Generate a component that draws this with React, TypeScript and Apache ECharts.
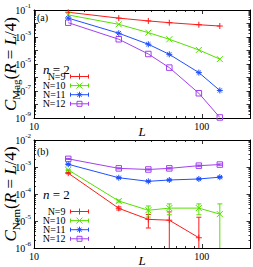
import React, { useEffect, useRef } from 'react';
import * as echarts from 'echarts';

const sizes = [16, 32, 48, 64, 96, 128];
const seriesNames = ['N=9', 'N=10', 'N=11', 'N=12'];
const colors = ['#ff1a1a', '#55e000', '#1f4fff', '#a040f0'];

// panel (a): C_Mag(R=L/4)
const magN9 = [6.8e-2, 2.5e-2, 1.55e-2, 1.15e-2, 8.1e-3, 6.5e-3];
const magN10 = [4.3e-2, 8.7e-3, 2.1e-3, 6.8e-4, 1.1e-4, 2.3e-5];
const magN11 = [2.5e-2, 1.9e-3, 2.9e-4, 5.2e-5, 2.3e-6, 1.1e-7];
const magN12 = [1.15e-2, 6.8e-4, 5.5e-5, 5.4e-6, 6.8e-8, 1.1e-9];

// panel (b): C_Nem(R=L/4)
const nemN9 = [5.9e-4, 2.95e-5, 1.15e-5, 1.07e-5, 2.4e-6, null];
const nemN10 = [7.8e-4, 5.5e-5, 2.5e-5, 3.0e-5, 3.0e-5, 1.8e-5];
const nemN11 = [1.26e-3, 4.0e-4, 2.95e-4, 3.3e-4, 3.6e-4, 4.2e-4];
const nemN12 = [2.0e-3, 8.9e-4, 8.1e-4, 8.9e-4, 1.12e-3, 1.23e-3];

const nemErrN9 = [3e-5, 4e-6, 6e-6, 1.1e-5, 1.14e-5, null];
const nemErrN10 = [4e-5, 5e-6, 1.1e-5, 1.3e-5, 1.3e-5, 2.5e-5];
const nemErrN11 = [5e-5, 2e-5, 1.5e-5, 2e-5, 2e-5, 2.5e-5];
const nemErrN12 = [8e-5, 4e-5, 4e-5, 5e-5, 6e-5, 7e-5];

const xMin = 10;
const xMax = 195;
const magYMin = 1e-9;
const magYMax = 1e-1;
const nemYMin = 1e-6;
const nemYMax = 1e-2;

const xTitle = 'L';
const magTitle = '{i|C}{sub|Mag}{t|(}{i|R}{t| = }{i|L}{t|/4)}';
const nemTitle = '{i|C}{sub|Nem}{t|(}{i|R}{t| = }{i|L}{t|/4)}';

const FONT = "'Liberation Serif', 'DejaVu Serif', serif";

const markerPaths = [
  'path://M0,3L6,3M3,0L3,6',
  'path://M0,0L6,6M0,6L6,0',
  'path://M0,3L6,3M3,0L3,6M0.9,0.9L5.1,5.1M0.9,5.1L5.1,0.9',
  'path://M0.5,0.5L5.5,0.5L5.5,5.5L0.5,5.5Z',
];

function isPow10(v: number) {
  const e = Math.log10(v);
  return Math.abs(e - Math.round(e)) < 1e-6;
}

function markerGraphic(i: number, cx: number, cy: number, color: string) {
  const st = { stroke: color, lineWidth: 1, fill: 'none' };
  const r = 3;
  const ln = (x1: number, y1: number, x2: number, y2: number) => ({
    type: 'line', shape: { x1, y1, x2, y2 }, style: st, silent: true,
  });
  if (i === 0) return [ln(cx - r, cy, cx + r, cy), ln(cx, cy - r, cx, cy + r)];
  if (i === 1) return [ln(cx - r, cy - r, cx + r, cy + r), ln(cx - r, cy + r, cx + r, cy - r)];
  if (i === 2)
    return [
      ln(cx - r, cy, cx + r, cy), ln(cx, cy - r, cx, cy + r),
      ln(cx - 2.1, cy - 2.1, cx + 2.1, cy + 2.1), ln(cx - 2.1, cy + 2.1, cx + 2.1, cy - 2.1),
    ];
  return [{ type: 'rect', shape: { x: cx - 2.5, y: cy - 2.5, width: 5, height: 5 }, style: st, silent: true }];
}

function legendGraphic(firstRowY: number) {
  const rowGap = 9.1;
  const textRight = 65.5;
  const x1 = 70.5;
  const x2 = 88.5;
  const out: any[] = [];
  seriesNames.forEach((n, i) => {
    const y = firstRowY + i * rowGap;
    const c = colors[i];
    const st = { stroke: c, lineWidth: 1 };
    out.push({
      type: 'text', x: textRight, y, silent: true,
      style: {
        text: n, fontFamily: FONT, fontSize: 10, lineHeight: 9, fill: '#000',
        align: 'right', verticalAlign: 'middle',
      },
    });
    out.push({ type: 'line', shape: { x1, y1: y, x2, y2: y }, style: st, silent: true });
    out.push({ type: 'line', shape: { x1, y1: y - 2, x2: x1, y2: y + 2 }, style: st, silent: true });
    out.push({ type: 'line', shape: { x1: x2, y1: y - 2, x2, y2: y + 2 }, style: st, silent: true });
    markerGraphic(i, (x1 + x2) / 2, y, c).forEach((g) => out.push(g));
  });
  return out;
}

function yTitle(text: string, cy: number) {
  return {
    type: 'text',
    x: 10,
    y: cy,
    rotation: Math.PI / 2,
    silent: true,
    style: {
      text,
      align: 'center',
      verticalAlign: 'middle',
      fill: '#000',
      fontFamily: FONT,
      fontSize: 17,
      rich: {
        i: { fontFamily: FONT, fontStyle: 'italic', fontSize: 17, lineHeight: 17, fill: '#000' },
        t: { fontFamily: FONT, fontSize: 17, lineHeight: 17, fill: '#000' },
        sub: { fontFamily: FONT, fontSize: 11, lineHeight: 11, fill: '#000', verticalAlign: 'bottom', padding: [0, 0, -3, 0] },
      },
    },
  };
}

function xTitleGraphic(cy: number) {
  return {
    type: 'text',
    x: 142,
    y: cy,
    silent: true,
    style: {
      text: xTitle, fontFamily: FONT, fontStyle: 'italic', fontSize: 13, lineHeight: 11,
      fill: '#000', align: 'center', verticalAlign: 'middle',
    },
  };
}

export default function App() {
  const ref = useRef<HTMLDivElement>(null);
  useEffect(() => {
    if (!ref.current) return;
    const chart = echarts.init(ref.current, undefined, { renderer: 'svg' });
    const magData = [magN9, magN10, magN11, magN12];
    const nemData = [nemN9, nemN10, nemN11, nemN12];
    const nemErr = [nemErrN9, nemErrN10, nemErrN11, nemErrN12];

    const grids = [
      { left: 34, top: 10, right: 2.5, height: 108, containLabel: false, outerBoundsMode: 'none' },
      { left: 34, top: 140, right: 2.5, height: 108, containLabel: false, outerBoundsMode: 'none' },
    ];

    const xAxisBase = (gridIndex: number, position: string, main: boolean) => ({
      type: 'log',
      logBase: 10,
      gridIndex,
      position,
      min: xMin,
      max: xMax,
      splitNumber: 2,
      axisLine: { show: true, lineStyle: { color: '#000', width: 1 } },
      axisTick: { show: true, inside: true, length: 4, lineStyle: { color: '#000', width: 0.8 } },
      minorTick: { show: true, splitNumber: 9, length: 2, lineStyle: { color: '#000', width: 0.8 } },
      splitLine: { show: false },
      axisLabel: {
        show: main,
        margin: 3,
        color: '#000',
        fontFamily: FONT,
        fontSize: 10,
        showMaxLabel: false,
        formatter: (v: number) => (isPow10(v) ? String(Math.round(v)) : ''),
      },
    });

    const yAxisBase = (
      gridIndex: number,
      position: string,
      main: boolean,
      min: number,
      max: number,
      split: number,
      oddOnly: boolean
    ) => ({
      type: 'log',
      logBase: 10,
      gridIndex,
      position,
      min,
      max,
      splitNumber: split,
      axisLine: { show: true, lineStyle: { color: '#000', width: 1 } },
      axisTick: { show: true, inside: true, length: 4, lineStyle: { color: '#000', width: 0.8 } },
      minorTick: { show: true, splitNumber: 9, length: 2, lineStyle: { color: '#000', width: 0.8 } },
      splitLine: { show: false },
      axisLabel: {
        show: main,
        margin: 3,
        color: '#000',
        formatter: (v: number) => {
          if (!isPow10(v)) return '';
          const e = Math.round(Math.log10(v));
          if (oddOnly && Math.abs(e) % 2 === 0) return '';
          return '{b|10}{s|' + e + '}';
        },
        rich: {
          b: { fontFamily: FONT, fontSize: 10, color: '#000' },
          s: { fontFamily: FONT, fontSize: 7, color: '#000', padding: [0, 0, 8, 0] },
        },
      },
    });

    const series: any[] = [];
    // error bars (panel b)
    nemData.forEach((vals, si) => {
      const data: number[][] = [];
      vals.forEach((v, i) => {
        const e = nemErr[si][i];
        if (v == null || e == null) return;
        data.push([sizes[i], v - e, v + e]);
      });
      series.push({
        type: 'custom',
        name: seriesNames[si],
        xAxisIndex: 2,
        yAxisIndex: 2,
        silent: true,
        clip: true,
        z: 2,
        data,
        renderItem: (params: any, api: any) => {
          const x = api.value(0);
          const lo = api.value(1);
          const hi = api.value(2);
          const loClamped = lo > nemYMin ? lo : nemYMin;
          const pt = api.coord([x, hi]);
          const pb = api.coord([x, loClamped]);
          const st = { stroke: colors[si], lineWidth: 1 };
          const cap = 2.5;
          const children: any[] = [
            { type: 'line', shape: { x1: pt[0], y1: pt[1], x2: pb[0], y2: pb[1] }, style: st },
            { type: 'line', shape: { x1: pt[0] - cap, y1: pt[1], x2: pt[0] + cap, y2: pt[1] }, style: st },
          ];
          if (lo > nemYMin) {
            children.push({ type: 'line', shape: { x1: pb[0] - cap, y1: pb[1], x2: pb[0] + cap, y2: pb[1] }, style: st });
          }
          return { type: 'group', children };
        },
      });
    });

    const lineSeries = (vals: (number | null)[], si: number, xi: number, yi: number) => ({
      type: 'line',
      name: seriesNames[si],
      xAxisIndex: xi,
      yAxisIndex: yi,
      data: vals
        .map((v, i) => (v == null ? null : [sizes[i], v]))
        .filter((d) => d != null),
      symbol: markerPaths[si],
      symbolSize: si === 3 ? 5.5 : 6,
      showSymbol: true,
      showAllSymbol: true,
      silent: true,
      z: 3,
      lineStyle: { color: colors[si], width: 1 },
      itemStyle: { color: 'transparent', borderColor: colors[si], borderWidth: 1 },
      emphasis: { disabled: true },
    });

    magData.forEach((vals, si) => series.push(lineSeries(vals, si, 0, 0)));
    nemData.forEach((vals, si) => series.push(lineSeries(vals, si, 2, 2)));

    const nLabel = (top: number) => ({
      type: 'text', left: 43, top, silent: true,
      style: {
        text: '{i|n} = 2', fontFamily: FONT, fontSize: 13, lineHeight: 12, fill: '#000',
        rich: { i: { fontFamily: FONT, fontStyle: 'italic', fontSize: 13, lineHeight: 12, fill: '#000' } },
      },
    });

    chart.setOption({
      animation: false,
      grid: grids,
      xAxis: [
        xAxisBase(0, 'bottom', true),
        xAxisBase(0, 'top', false),
        xAxisBase(1, 'bottom', true),
        xAxisBase(1, 'top', false),
      ],
      yAxis: [
        yAxisBase(0, 'left', true, magYMin, magYMax, 8, true),
        yAxisBase(0, 'right', false, magYMin, magYMax, 8, true),
        yAxisBase(1, 'left', true, nemYMin, nemYMax, 4, false),
        yAxisBase(1, 'right', false, nemYMin, nemYMax, 4, false),
      ],
      graphic: [
        yTitle(magTitle, 64),
        yTitle(nemTitle, 194),
        xTitleGraphic(131),
        xTitleGraphic(260.5),
        { type: 'text', left: 37, top: 12, silent: true, style: { text: '(a)', fontFamily: FONT, fontSize: 10, fill: '#000' } },
        { type: 'text', left: 37, top: 146, silent: true, style: { text: '(b)', fontFamily: FONT, fontSize: 10, fill: '#000' } },
        nLabel(62.5),
        nLabel(187.5),
        ...legendGraphic(76.5),
        ...legendGraphic(211.5),
      ],
      series,
    });
    return () => chart.dispose();
  }, []);
  return (
    <div
      ref={ref}
      style={{ position: 'fixed', left: 0, top: 0, width: 253, height: 267, background: '#fff' }}
    />
  );
}
